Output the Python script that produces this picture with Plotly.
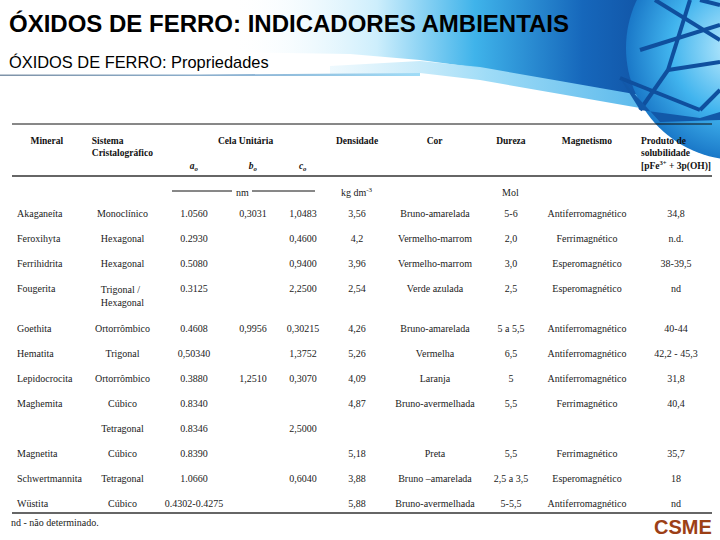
import math
import plotly.graph_objects as go

# ---------------- data ----------------
NB = "\u00a0"
headers = [
    "<b>Mineral</b>",
    "<b>Sistema<br>Cristalográfico</b>",
    NB + "<br>" + NB + "<br><b><i>a<sub>o</sub></i></b>",
    NB + "<br>" + NB + "<br><b><i>b<sub>o</sub></i></b>",
    NB + "<br>" + NB + "<br><b><i>c<sub>o</sub></i></b>",
    "<b>Densidade</b>",
    "<b>Cor</b>",
    "<b>Dureza</b>",
    "<b>Magnetismo</b>",
    "<b>Produto de<br>solubilidade<br>[pFe<sup>3+</sup>" + NB + "+" + NB + "3p(OH)]</b>",
]
cela_label = "<b>Cela Unitária</b>"
unit_nm = "nm"
unit_dens = "kg dm<sup>-3</sup>"
unit_dureza = "Mol"
footnote = "nd - não determinado."

mineral = ["Akaganeíta", "Feroxihyta", "Ferrihidrita", "Fougerita", "Goethita", "Hematita",
           "Lepidocrocita", "Maghemita", "", "Magnetita", "Schwertmannita", "Wüstita"]
sistema = ["Monoclínico", "Hexagonal", "Hexagonal", "Trigonal /<br>Hexagonal", "Ortorrômbico",
           "Trigonal", "Ortorrômbico", "Cúbico", "Tetragonal", "Cúbico", "Tetragonal", "Cúbico"]
a_o = ["1.0560", "0.2930", "0.5080", "0.3125", "0.4608", "0,50340", "0.3880", "0.8340",
       "0.8346", "0.8390", "1.0660", "0.4302-0.4275"]
b_o = ["0,3031", "", "", "", "0,9956", "", "1,2510", "", "", "", "", ""]
c_o = ["1,0483", "0,4600", "0,9400", "2,2500", "0,30215", "1,3752", "0,3070", "", "2,5000",
       "", "0,6040", ""]
densidade = ["3,56", "4,2", "3,96", "2,54", "4,26", "5,26", "4,09", "4,87", "", "5,18", "3,88", "5,88"]
cor = ["Bruno-amarelada", "Vermelho-marrom", "Vermelho-marrom", "Verde azulada", "Bruno-amarelada",
       "Vermelha", "Laranja", "Bruno-avermelhada", "", "Preta", "Bruno –amarelada", "Bruno-avermelhada"]
dureza = ["5-6", "2,0", "3,0", "2,5", "5 a 5,5", "6,5", "5", "5,5", "", "5,5", "2,5 a 3,5", "5-5,5"]
magnetismo = ["Antiferromagnético", "Ferrimagnético", "Esperomagnético", "Esperomagnético",
              "Antiferromagnético", "Antiferromagnético", "Antiferromagnético", "Ferrimagnético", "",
              "Ferrimagnético", "Esperomagnético", "Antiferromagnético"]
solubilidade = ["34,8", "n.d.", "38-39,5", "nd", "40-44", "42,2 - 45,3", "31,8", "40,4", "",
                "35,7", "18", "nd"]

columns = [mineral, sistema, a_o, b_o, c_o, densidade, cor, dureza, magnetismo, solubilidade]
cell_values = [[v.replace(" a ", NB + "a" + NB) for v in col] for col in columns]

W, H = 720, 540
SERIF = "Liberation Serif"

fig = go.Figure()

# ---------------- decorative slide header ----------------
band_x = [230, 720, 720, 640, 560, 480, 420, 350, 230]
band_y = [0, 0, 106, 96, 82, 68, 60, 54, 52]
fig.add_trace(go.Scatter(
    x=band_x, y=band_y, fill="toself", mode="none", hoverinfo="skip", showlegend=False,
    fillgradient=dict(type="horizontal", colorscale=[
        [0, "rgba(255,255,255,0)"], [0.3, "#cdeefc"], [0.5, "#3fb3ea"],
        [0.72, "#1667bb"], [1, "#0c3f8e"]])))
sw_x = [330, 420, 480, 560, 640, 720, 720, 640, 560, 480, 420, 330]
sw_y = [66, 61, 67, 81, 95, 105, 118, 108, 94, 80, 73, 74]
fig.add_trace(go.Scatter(
    x=sw_x, y=sw_y, fill="toself", mode="none", hoverinfo="skip", showlegend=False,
    fillgradient=dict(type="horizontal", colorscale=[
        [0, "rgba(200,235,250,0.3)"], [0.4, "#9fdcf7"], [1, "#3aa8e6"]])))
fig.add_trace(go.Scatter(
    x=[0, 200, 420, 420, 200, 0], y=[74.5, 74.5, 73, 76, 76, 76], fill="toself", mode="none",
    hoverinfo="skip", showlegend=False,
    fillgradient=dict(type="horizontal", colorscale=[
        [0, "#7f93a8"], [0.6, "#8fb6d6"], [1, "#9fdcf7"]])))

# globe
cx, cy, r = 738, 48, 112
gx = [cx + r * math.cos(t * math.pi / 60) for t in range(121)]
gy = [cy + r * math.sin(t * math.pi / 60) for t in range(121)]
fig.add_trace(go.Scatter(
    x=gx, y=gy, fill="toself", mode="none", hoverinfo="skip", showlegend=False,
    fillgradient=dict(type="radial", colorscale=[[0, "#c8f0ff"], [0.6, "#41b4ee"], [1, "#1a78c8"]])))
for (x0, y0, x1, y1) in [(655, 0, 720, 40), (640, 50, 720, 25), (620, 78, 700, 110),
                         (690, 0, 668, 70), (668, 70, 720, 62), (668, 70, 640, 110),
                         (700, 110, 720, 90), (720, 5, 700, 0)]:
    fig.add_trace(go.Scatter(x=[x0, x1], y=[y0, y1], mode="lines", hoverinfo="skip",
                             showlegend=False, line=dict(color="#0f4f9e", width=4)))
fig.add_trace(go.Scatter(
    x=[620, 640, 700, 720, 720, 660], y=[78, 110, 118, 112, 120, 122], fill="toself", mode="none",
    hoverinfo="skip", showlegend=False, fillcolor="#1258a8"))

# ---------------- table ----------------
fig.add_trace(go.Table(
    domain=dict(x=[9 / W, 716 / W], y=[0, 1 - 128 / H]),
    columnwidth=[76, 75, 68, 50, 50, 58, 98, 54, 98, 80],
    header=dict(values=headers, align="center", height=73,
                font=dict(family=SERIF, size=9.5, color="#111"),
                fill_color="rgba(0,0,0,0)", line=dict(color="rgba(0,0,0,0)", width=0)),
    cells=dict(values=cell_values,
               align=["left"] + ["center"] * 9, height=25,
               font=dict(family=SERIF, size=10, color="#222"),
               fill_color="rgba(0,0,0,0)", line=dict(color="rgba(0,0,0,0)", width=0)),
))

# ---------------- rules & texts ----------------
shapes = [
    dict(type="line", x0=12, x1=712, y0=124, y1=124, line=dict(color="#111", width=1)),
    dict(type="line", x0=12, x1=712, y0=176, y1=176, line=dict(color="#666", width=2)),
    dict(type="line", x0=12, x1=712, y0=513, y1=513, line=dict(color="#666", width=2)),
    dict(type="line", x0=172, x1=232, y0=191, y1=191, line=dict(color="#111", width=1)),
    dict(type="line", x0=252, x1=315, y0=191, y1=191, line=dict(color="#111", width=1)),
]
for s in shapes:
    s.update(xref="x", yref="y", layer="above")

annotations = [
    dict(x=7, y=23, text="<b>ÓXIDOS DE FERRO: INDICADORES AMBIENTAIS</b>", xanchor="left",
         yanchor="middle", showarrow=False,
         font=dict(family="Liberation Sans", size=24, color="#000")),
    dict(x=7, y=62, text="ÓXIDOS DE FERRO: Propriedades", xanchor="left", yanchor="middle",
         showarrow=False, font=dict(family="Liberation Sans", size=16.4, color="#000")),
    dict(x=245, y=141, text=cela_label, xanchor="center", yanchor="middle",
         showarrow=False, font=dict(family=SERIF, size=9.5, color="#111")),
    dict(x=242, y=192, text=unit_nm, xanchor="center", yanchor="middle",
         showarrow=False, font=dict(family=SERIF, size=10, color="#222")),
    dict(x=357, y=192, text=unit_dens, xanchor="center", yanchor="middle",
         showarrow=False, font=dict(family=SERIF, size=10, color="#222")),
    dict(x=510, y=192, text=unit_dureza, xanchor="center", yanchor="middle",
         showarrow=False, font=dict(family=SERIF, size=10, color="#222")),
    dict(x=9, y=522, text=footnote, xanchor="left", yanchor="middle",
         showarrow=False, font=dict(family=SERIF, size=10, color="#222")),
    dict(x=714, y=527, text="<b>CSME</b>", xanchor="right", yanchor="middle", showarrow=False,
         font=dict(family="Liberation Sans", size=20, color="#9c4016")),
]
for a in annotations:
    a.update(xref="x", yref="y")

fig.update_layout(
    width=W, height=H, margin=dict(l=0, r=0, t=0, b=0),
    paper_bgcolor="white", plot_bgcolor="white",
    xaxis=dict(range=[0, W], visible=False, fixedrange=True),
    yaxis=dict(range=[H, 0], visible=False, fixedrange=True),
    shapes=shapes, annotations=annotations, showlegend=False,
)

fig.write_html("out.html", config={"displayModeBar": False},
               post_script="document.body.style.margin='0';document.body.style.overflow='hidden';")
